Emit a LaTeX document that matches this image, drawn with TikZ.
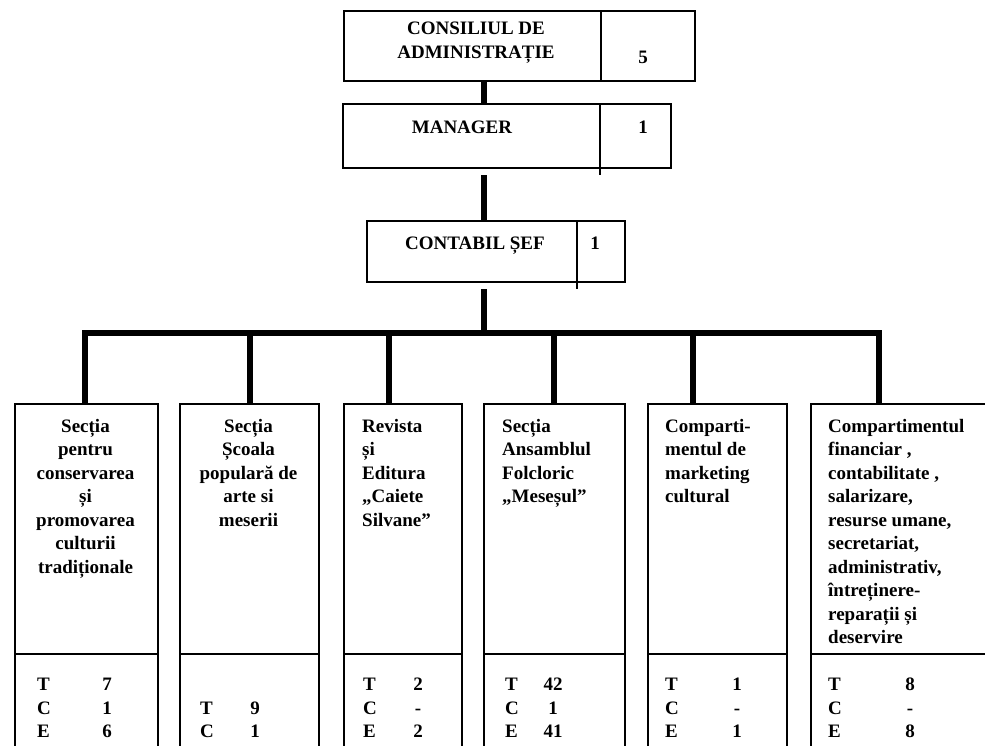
\documentclass[tikz,border=0pt]{standalone}
\usepackage{fontspec}
\setmainfont{Liberation Serif}
\begin{document}
\begin{tikzpicture}[x=1pt,y=-1pt,
  box/.style={draw, line width=2pt, inner sep=0pt, anchor=north west},
  sep/.style={line width=2.5pt},
  conn/.style={line width=5.5pt},
  txt/.style={inner sep=0pt, font=\fontsize{19}{23.5}\selectfont\bfseries},
  ctxt/.style={txt, align=center, anchor=north},
  ltxt/.style={txt, align=left, anchor=north west},
  num/.style={txt, anchor=base}]
\useasboundingbox[fill=white] (0,0) rectangle (985,745);
% top boxes
\node[box, minimum width=351, minimum height=70] (cons) at (343,10) {};
\node[box, minimum width=328, minimum height=64] (mgr) at (342,103) {};
\node[box, minimum width=258, minimum height=61] (cont) at (366,220) {};
\draw[sep] ([xshift=258]cons.north west) -- ([xshift=258]cons.south west);
\draw[sep] ([xshift=258]mgr.north west) -- ([xshift=258,yshift=-6]mgr.south west);
\draw[sep] ([xshift=211]cont.north west) -- ([xshift=211,yshift=-6]cont.south west);
\node[ctxt] (consT) at (476,22) {CONSILIUL DE\\ADMINISTRAȚIE};
\node[num] (consN) at (643,63) {5};
\node[num] (mgrT) at (462,133) {MANAGER};
\node[num] (mgrN) at (643,133) {1};
\node[num] (contT) at (475,249) {CONTABIL ȘEF};
\node[num] (contN) at (595,249) {1};
% spine
\coordinate (spine) at (484,0);
\coordinate (bar) at (0,333);
\draw[conn] (cons.south -| spine) -- (mgr.north -| spine);
\draw[conn] ([yshift=-6]mgr.south -| spine) -- (cont.north -| spine);
\draw[conn] ([yshift=-6]cont.south -| spine) -- (spine |- bar);
% bottom boxes
\node[box, minimum width=143, minimum height=360] (b1) at (14,403) {};
\node[box, minimum width=139, minimum height=360] (b2) at (179,403) {};
\node[box, minimum width=118, minimum height=360] (b3) at (343,403) {};
\node[box, minimum width=141, minimum height=360] (b4) at (483,403) {};
\node[box, minimum width=139, minimum height=360] (b5) at (647,403) {};
\node[box, minimum width=200, minimum height=360] (b6) at (810,403) {};
\foreach \b in {b1,b2,b3,b4,b5,b6}{
  \draw[sep] ([yshift=-251]\b.north west) -- ([yshift=-251]\b.north east);
}
% drops
\coordinate (d1) at (85,403);
\coordinate (d2) at (250,403);
\coordinate (d3) at (389,403);
\coordinate (d4) at (554,403);
\coordinate (d5) at (693,403);
\coordinate (d6) at (879,403);
\draw[conn] (b1.north -| d1) -- (d1 |- bar) -- (d6 |- bar) -- (b6.north -| d6);
\foreach \b/\d in {b2/d2,b3/d3,b4/d4,b5/d5}{
  \draw[conn] (\b.north -| \d) -- (\d |- bar);
}
% texts
\node[ctxt] (t1) at (85.5,419) {Secția\\pentru\\conservarea\\și\\promovarea\\culturii\\tradiționale};
\node[ctxt] (t2) at (248.5,419) {Secția\\Școala\\populară de\\arte si\\meserii};
\node[ltxt] (t3) at (362,419) {Revista\\și\\Editura\\„Caiete\\Silvane”};
\node[ltxt] (t4) at (502,419) {Secția\\Ansamblul\\Folcloric\\„Meseșul”};
\node[ltxt] (t5) at (665,419) {Comparti-\\mentul de\\marketing\\cultural};
\node[ltxt] (t6) at (828,419) {Compartimentul\\financiar ,\\contabilitate ,\\salarizare,\\resurse umane,\\secretariat,\\administrativ,\\întreținere-\\reparații și\\deservire};
% counts
\foreach \n/\lx/\nx/\ra/\rb/\rc/\va/\vb/\vc in {
  1/37/107/T/C/E/7/1/6,
  3/363/418/T/C/E/2/-/2,
  4/505/553/T/C/E/42/1/41,
  5/665/737/T/C/E/1/-/1,
  6/828/910/T/C/E/8/-/8}{
  \node[num, anchor=base west] (l\n a) at (\lx,690) {\ra};
  \node[num, anchor=base west] (l\n b) at (\lx,714) {\rb};
  \node[num, anchor=base west] (l\n c) at (\lx,737) {\rc};
  \node[num] (v\n a) at (\nx,690) {\va};
  \node[num] (v\n b) at (\nx,714) {\vb};
  \node[num] (v\n c) at (\nx,737) {\vc};
}
\node[num, anchor=base west] (l2a) at (200,714) {T};
\node[num, anchor=base west] (l2b) at (200,737) {C};
\node[num] (v2a) at (255,714) {9};
\node[num] (v2b) at (255,737) {1};
\end{tikzpicture}
\end{document}
